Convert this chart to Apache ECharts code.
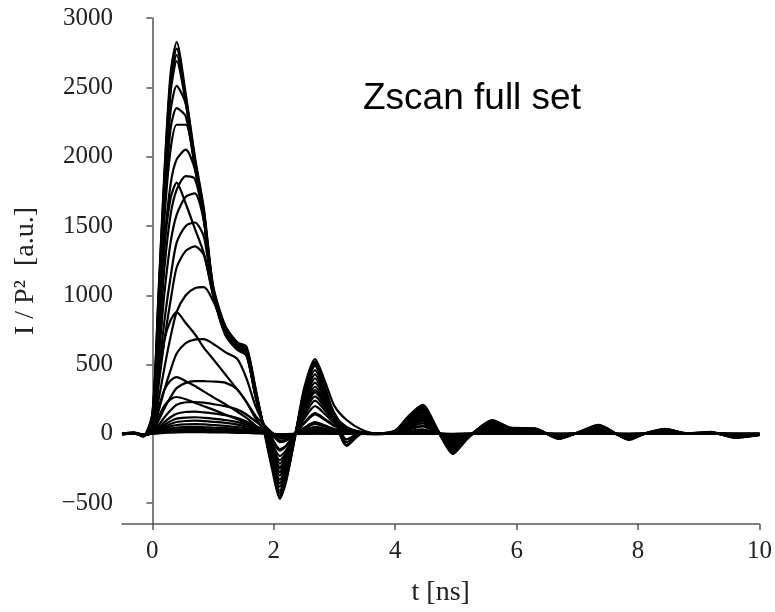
<!DOCTYPE html>
<html>
<head>
<meta charset="utf-8">
<script src="https://cdn.jsdelivr.net/npm/echarts@6/dist/echarts.min.js"></script>
<style>
  html, body { margin: 0; padding: 0; background: #fff; }
  #chart { width: 775px; height: 612px; }
</style>
</head>
<body>
<div id="chart"></div>
<script>
// Time axis shared by every trace (ns)
const tNs = [-0.5, -0.3, -0.15, 0, 0.1, 0.2, 0.3, 0.4, 0.55, 0.7, 0.85, 1.0, 1.2, 1.4, 1.55, 1.7,
  1.85, 1.97, 2.1, 2.2, 2.35, 2.5, 2.68, 2.85, 3.0, 3.2, 3.45, 3.7, 4.0, 4.2, 4.45, 4.7, 4.95, 5.2,
  5.6, 5.9, 6.3, 6.7, 7.0, 7.35, 7.85, 8.1, 8.45, 8.8, 9.2, 9.6, 10.0];

// Normalised intensity traces I / P^2 for each z position
const runA1 = [0, 8, -18, 150, 1000, 1900, 2600, 2827, 2450, 2000, 1620, 1070, 780, 660, 630, 330,
  0, -250, -468, -350, -20, 330, 540, 370, 200, 100, 30, 0, 25, 120, 210, 30, -145, -30, 100, 45, 40, -36, 10, 65, -43, 0, 36, 5, 14, -29, -8];
const runA2 = [4, 10, -12, 140, 980, 1870, 2560, 2780, 2430, 1985, 1605, 1060, 770, 650, 620, 320,
  10, -230, -450, -335, -25, 310, 520, 330, 120, -80, 5, 5, 20, 110, 200, 25, -140, -25, 95, 42, 38, -34, 8, 62, -40, 2, 34, 3, 12, -27, -10];
const runA3 = [-3, 6, -20, 130, 950, 1830, 2510, 2734, 2410, 1970, 1590, 1050, 760, 645, 615, 310,
  15, -215, -430, -320, -15, 300, 505, 320, 110, -86, 0, -3, 18, 105, 190, 20, -132, -28, 90, 40, 36, -32, 6, 58, -38, 0, 32, 4, 10, -25, -6];
const runA4 = [2, 12, -10, 120, 920, 1790, 2460, 2690, 2390, 1955, 1575, 1040, 750, 640, 600, 300,
  20, -200, -410, -300, -10, 285, 490, 310, 130, -60, 8, 4, 15, 100, 180, 22, -125, -20, 85, 38, 35, -30, 9, 55, -36, 3, 30, 2, 11, -24, -7];
const runB1 = [0, 5, -15, 110, 880, 1720, 2330, 2511, 2380, 1945, 1565, 1035, 740, 630, 590, 290,
  18, -185, -380, -285, -12, 265, 460, 300, 140, -40, 10, 2, 14, 92, 170, 20, -118, -22, 80, 36, 33, -28, 7, 52, -34, 1, 28, 3, 9, -22, -8];
const runB2 = [3, 7, -14, 100, 840, 1640, 2200, 2350, 2290, 1930, 1555, 1030, 735, 625, 585, 285,
  22, -170, -355, -265, -8, 245, 430, 285, 150, 20, 12, 5, 12, 85, 160, 18, -110, -18, 75, 34, 30, -26, 8, 48, -32, 2, 26, 4, 8, -20, -5];
const runB3 = [-2, 4, -16, 90, 800, 1560, 2050, 2230, 2230, 1925, 1550, 1025, 730, 620, 580, 280,
  20, -155, -330, -245, -10, 225, 400, 270, 140, 40, 10, 3, 10, 80, 150, 15, -100, -15, 70, 32, 28, -24, 6, 45, -30, 0, 24, 2, 9, -18, -6];
const runB4 = [1, 6, -12, 80, 700, 1380, 1800, 1980, 2050, 1910, 1545, 1020, 725, 615, 575, 275,
  25, -140, -300, -225, -5, 205, 370, 250, 130, 50, 12, 6, 11, 75, 135, 16, -92, -16, 64, 30, 26, -22, 7, 42, -28, 2, 22, 3, 7, -17, -4];
const runB5 = [2, 5, -10, 70, 600, 1200, 1580, 1760, 1860, 1840, 1540, 1018, 720, 610, 570, 270,
  24, -125, -275, -205, -8, 185, 340, 230, 120, 45, 10, 4, 9, 68, 125, 14, -85, -14, 58, 28, 24, -20, 5, 38, -26, 1, 20, 2, 8, -15, -5];
const runB6 = [-1, 4, -12, 60, 520, 1020, 1380, 1580, 1710, 1735, 1530, 1015, 715, 605, 565, 265,
  26, -115, -250, -190, -6, 170, 315, 215, 112, 42, 11, 5, 10, 62, 115, 13, -78, -12, 54, 26, 22, -18, 6, 35, -24, 2, 18, 3, 6, -14, -4];
const runD1 = [0, 6, -14, 60, 700, 1350, 1700, 1813, 1660, 1480, 1300, 1010, 770, 650, 610, 300,
  20, -110, -240, -180, -7, 160, 300, 205, 108, 40, 9, 3, 8, 60, 110, 12, -74, -13, 52, 25, 21, -17, 4, 33, -23, 0, 17, 2, 7, -13, -6];
const runC1 = [0, 3, -12, 30, 420, 820, 1130, 1380, 1500, 1525, 1420, 1010, 775, 650, 600, 285,
  30, -95, -215, -160, -5, 145, 270, 185, 100, 38, 10, 4, 9, 55, 100, 12, -66, -11, 47, 22, 19, -15, 5, 30, -21, 1, 15, 2, 5, -12, -4];
const runC2 = [2, 5, -10, 25, 340, 680, 960, 1200, 1320, 1353, 1290, 1000, 770, 645, 595, 280,
  32, -85, -190, -140, -4, 128, 240, 165, 90, 35, 9, 3, 8, 50, 90, 10, -60, -10, 42, 20, 17, -14, 4, 27, -19, 0, 14, 1, 6, -11, -5];
const runC3 = [-1, 4, -9, 20, 240, 480, 700, 880, 1000, 1050, 1058, 960, 760, 640, 590, 275,
  35, -70, -160, -120, -3, 108, 200, 140, 78, 30, 8, 4, 7, 42, 76, 9, -50, -9, 36, 17, 15, -12, 3, 23, -16, 1, 12, 2, 4, -9, -3];
const runD2 = [0, 4, -10, 20, 380, 680, 820, 878, 800, 720, 620, 540, 430, 320, 230, 110,
  25, -50, -120, -90, -4, 80, 150, 105, 60, 24, 6, 2, 6, 32, 58, 7, -38, -7, 28, 13, 12, -9, 3, 18, -12, 0, 9, 1, 4, -7, -4];
const runC4 = [0, 5, -8, 15, 160, 320, 460, 580, 655, 680, 683, 650, 590, 540, 400, 200,
  60, -30, -110, -85, -2, 75, 140, 98, 56, 22, 7, 3, 5, 30, 54, 7, -35, -6, 26, 12, 11, -8, 2, 16, -11, 1, 8, 2, 3, -6, -3];
const runC5 = [1, 4, -7, 12, 95, 185, 265, 330, 368, 381, 380, 378, 370, 320, 230, 130,
  60, 10, -60, -50, -3, 45, 85, 60, 35, 14, 4, 2, 4, 18, 33, 4, -21, -4, 16, 8, 7, -5, 2, 10, -7, 0, 5, 1, 2, -4, -2];
const runD3 = [1, 3, -8, 12, 180, 320, 385, 410, 380, 345, 305, 265, 215, 160, 115, 60,
  20, -15, -50, -40, -2, 38, 72, 50, 30, 12, 4, 1, 3, 15, 28, 4, -18, -3, 14, 7, 6, -4, 1, 9, -6, 0, 5, 0, 2, -3, -3];
const runD4 = [0, 5, -6, 10, 115, 205, 250, 266, 250, 225, 200, 175, 140, 105, 78, 40,
  15, -10, -35, -28, -1, 26, 50, 35, 21, 9, 3, 1, 2, 11, 20, 3, -13, -2, 10, 5, 4, -3, 1, 6, -4, 0, 3, 1, 1, -2, -2];
const runC6 = [0, 3, -6, 9, 60, 120, 170, 210, 228, 230, 225, 215, 200, 175, 140, 90,
  40, 0, -30, -25, 0, 24, 45, 32, 19, 8, 2, 1, 2, 10, 18, 2, -11, -2, 9, 4, 4, -3, 1, 6, -4, 0, 3, 0, 1, -2, -1];
const runC7 = [2, 5, -5, 8, 40, 85, 120, 145, 158, 160, 155, 148, 135, 115, 90, 55,
  30, 2, -20, -17, 1, 17, 32, 22, 13, 6, 2, 0, 1, 7, 13, 2, -8, -1, 6, 3, 3, -2, 0, 4, -3, 0, 2, 0, 1, -1, -1];
const runC8 = [-1, 3, -6, 6, 30, 65, 92, 110, 118, 120, 116, 110, 100, 85, 66, 40,
  22, 3, -14, -12, 0, 12, 23, 16, 10, 4, 1, 0, 1, 5, 9, 1, -6, -1, 4, 2, 2, -1, 0, 3, -2, 0, 1, 0, 0, -1, 0];
const runC9 = [1, 4, -4, 5, 25, 50, 72, 86, 93, 95, 92, 87, 79, 67, 52, 32,
  18, 2, -10, -9, 1, 9, 17, 12, 7, 3, 1, 0, 1, 4, 7, 1, -4, 0, 3, 2, 1, -1, 0, 2, -1, 0, 1, 0, 0, 0, 0];
const runC10 = [0, 2, -5, 4, 18, 38, 54, 64, 69, 70, 68, 64, 58, 49, 38, 24,
  13, 1, -7, -6, 0, 6, 12, 8, 5, 2, 0, 0, 0, 3, 5, 1, -3, 0, 2, 1, 1, -1, 0, 1, -1, 0, 1, 0, 0, 0, 0];
const runC11 = [2, 5, -3, 4, 14, 28, 38, 46, 49, 50, 48, 45, 41, 35, 27, 17,
  9, 1, -5, -4, 0, 4, 8, 6, 3, 1, 0, 0, 0, 2, 3, 0, -2, 0, 1, 1, 1, 0, 0, 1, -1, 0, 0, 0, 0, 0, 0];
const runC12 = [-2, 2, -6, 3, 10, 20, 27, 32, 34, 35, 34, 32, 29, 24, 19, 12,
  6, 0, -3, -3, 0, 3, 6, 4, 2, 1, 0, 0, 0, 1, 2, 0, -1, 0, 1, 0, 0, 0, 0, 1, 0, 0, 0, 0, 0, 0, 0];
const runC13 = [1, 3, -4, 2, 7, 13, 17, 20, 22, 22, 21, 20, 18, 15, 12, 8,
  4, 0, -2, -2, 0, 2, 4, 3, 1, 1, 0, 0, 0, 1, 1, 0, -1, 0, 1, 0, 0, 0, 0, 0, 0, 0, 0, 0, 0, 0, 0];
const runC14 = [0, 4, -3, 1, 4, 7, 9, 11, 12, 12, 12, 11, 10, 8, 7, 4,
  2, 0, -1, -1, 0, 1, 2, 1, 1, 0, 0, 0, 0, 0, 1, 0, 0, 0, 0, 0, 0, 0, 0, 0, 0, 0, 0, 0, 0, 0, 0];

const runs = [runC14, runC13, runC12, runC11, runC10, runC9, runC8, runC7, runC6, runD4, runD3, runC5,
  runC4, runD2, runC3, runC2, runC1, runD1, runB6, runB5, runB4, runB3, runB2, runB1,
  runA4, runA3, runA2, runA1];

// Tick positions
const xTicks = [0, 2, 4, 6, 8, 10];
const yTicks = [-500, 0, 500, 1000, 1500, 2000, 2500, 3000];

const serif = '"Liberation Serif", "DejaVu Serif", serif';
const axisGray = '#555';

const chart = echarts.init(document.getElementById('chart'), null, { renderer: 'canvas' });

const series = runs.map(function (vals) {
  return {
    type: 'line',
    data: tNs.map(function (t, i) { return [t, vals[i]]; }),
    showSymbol: false,
    smooth: 0.25,
    lineStyle: { color: '#000', width: 2.2 },
    silent: true,
    animation: false
  };
});

chart.setOption({
  animation: false,
  backgroundColor: '#fff',
  title: {
    text: 'Zscan full set',
    left: 358,
    top: 75,
    textStyle: { fontFamily: '"Liberation Sans", Arial, sans-serif', fontSize: 37, fontWeight: 'normal', color: '#000' }
  },
  grid: { left: 122, right: 7, top: 18, bottom: 87, containLabel: false },
  xAxis: {
    type: 'value',
    min: -0.5,
    max: 10,
    name: 't [ns]',
    nameLocation: 'middle',
    nameGap: 55,
    nameTextStyle: { fontFamily: serif, fontSize: 28, color: '#222' },
    axisLine: { onZero: false, lineStyle: { color: axisGray, width: 1.5 } },
    axisTick: { show: true, length: 6, customValues: xTicks, lineStyle: { color: axisGray, width: 1.5 } },
    axisLabel: { customValues: xTicks, margin: 15, fontFamily: serif, fontSize: 25, color: '#222' },
    splitLine: { show: false }
  },
  yAxis: {
    type: 'value',
    min: -650,
    max: 3000,
    name: 'I / P\u00b2  [a.u.]',
    nameLocation: 'middle',
    nameGap: 82,
    nameRotate: 90,
    nameTextStyle: { fontFamily: serif, fontSize: 28, color: '#222' },
    axisLine: { show: true, lineStyle: { color: axisGray, width: 1.5 } },
    axisTick: { show: true, length: 6, customValues: yTicks, lineStyle: { color: axisGray, width: 1.5 } },
    axisLabel: {
      customValues: yTicks,
      margin: 9,
      fontFamily: serif,
      fontSize: 25,
      color: '#222',
      formatter: function (v) { return v < 0 ? '\u2212' + Math.abs(v) : String(v); }
    },
    splitLine: { show: false }
  },
  series: series
});
</script>
</body>
</html>
